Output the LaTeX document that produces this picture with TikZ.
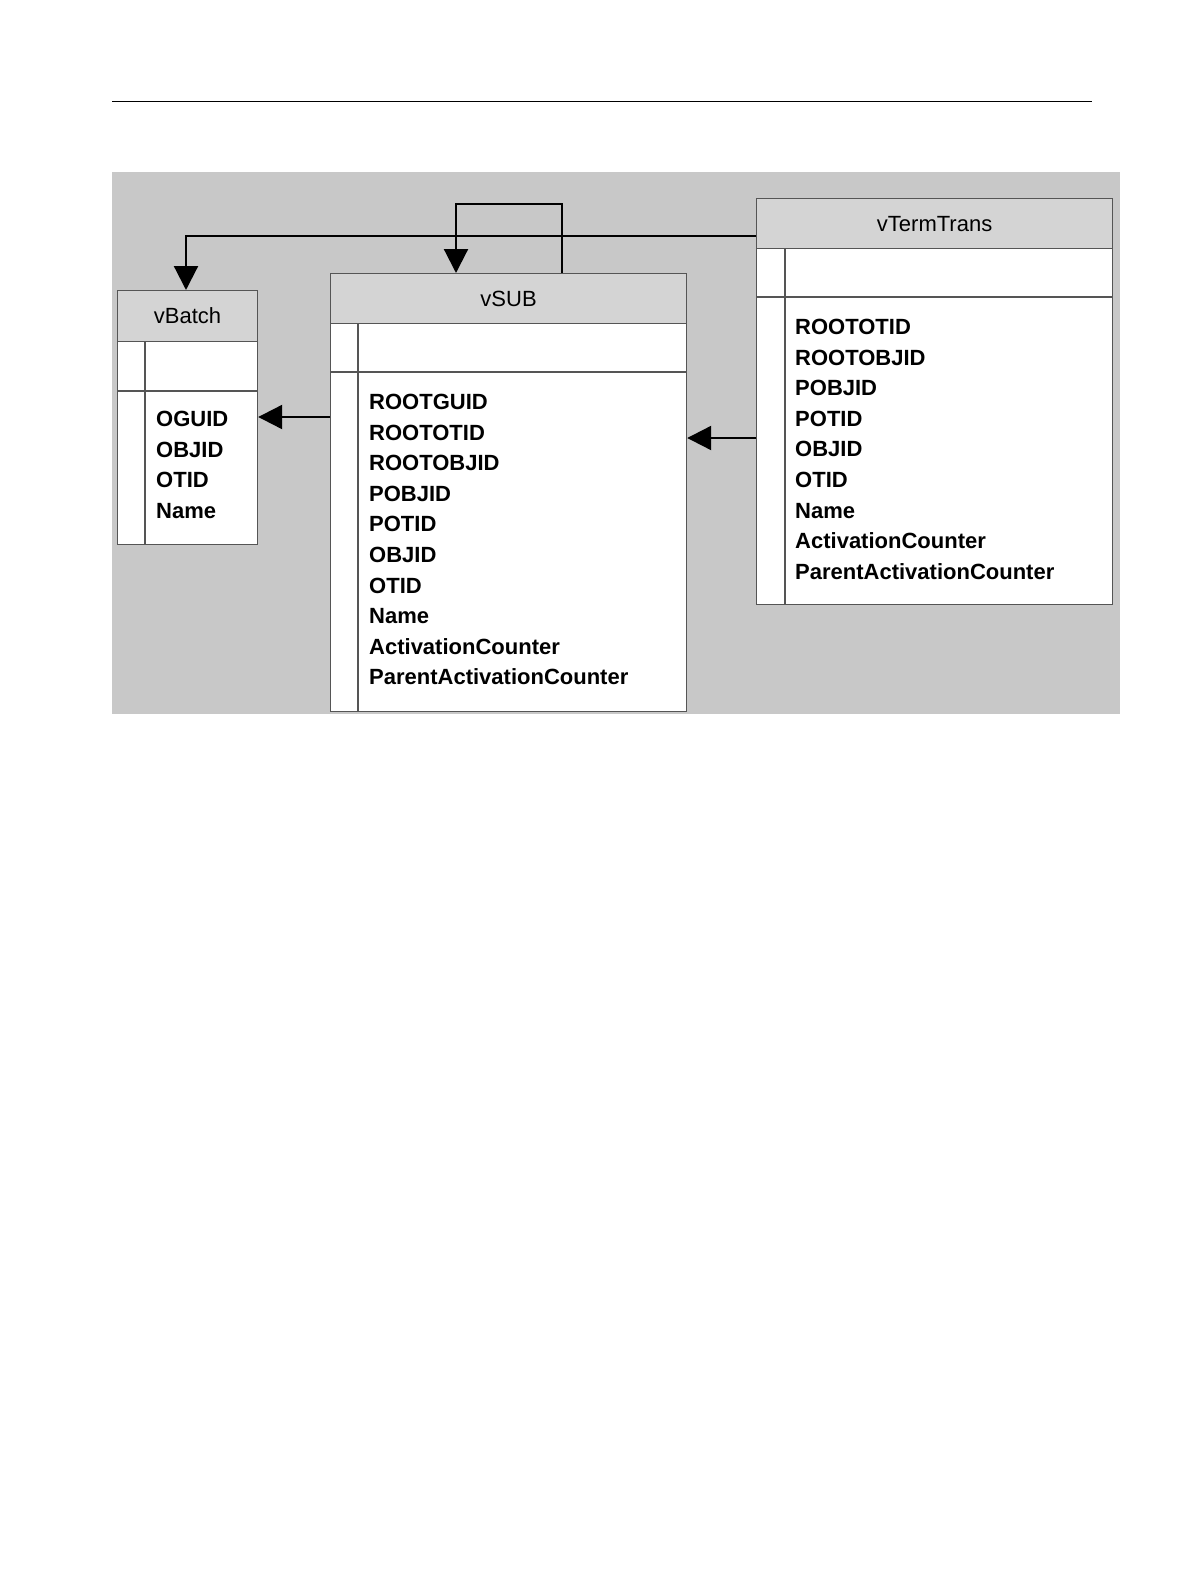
\documentclass[tikz,border=0pt]{standalone}
\usepackage{fontspec}
\setmainfont{Liberation Sans}
\usetikzlibrary{arrows.meta}
\definecolor{bggray}{HTML}{C8C8C8}
\definecolor{hdgray}{HTML}{D4D4D4}
\definecolor{lnc}{HTML}{555555}
\begin{document}
\begin{tikzpicture}[x=1pt,y=-1pt,
  tbl/.style={draw=lnc,line width=1.2pt,fill=white,inner sep=0pt,anchor=north west},
  hdr/.style={draw=lnc,line width=1.2pt,fill=hdgray,inner sep=0pt,anchor=north west,font=\fontsize{22}{26}\selectfont},
  fld/.style={anchor=north west,align=left,inner sep=0pt,font=\fontsize{22}{30.6}\selectfont\bfseries},
  conn/.style={line width=2.2pt,-{Triangle[length=24pt,width=24pt]}},
  connp/.style={line width=2.2pt}]
\useasboundingbox (0,0) rectangle (1191,1587);
\draw[line width=1pt] (112,101) -- (1092,101);
\fill[bggray] (112,172) rectangle (1120,714);
% vBatch
\node[tbl,minimum width=140pt,minimum height=254pt] (vb) at (117,290) {};
\node[hdr,minimum width=140pt,minimum height=51pt] (vbh) at (117,290) {vBatch};
\draw[draw=lnc,line width=1.2pt] (117,391) -- (257,391) (145,341) -- (145,544);
\node[fld] (vbf) at (156,411) {OGUID\\OBJID\\OTID\\Name};
% vSUB
\node[tbl,minimum width=356pt,minimum height=438pt] (vs) at (330,273) {};
\node[hdr,minimum width=356pt,minimum height=50pt] (vsh) at (330,273) {vSUB};
\draw[draw=lnc,line width=1.2pt] (330,372) -- (686,372) (358,323) -- (358,711);
\node[fld] (vsf) at (369,394) {ROOTGUID\\ROOTOTID\\ROOTOBJID\\POBJID\\POTID\\OBJID\\OTID\\Name\\ActivationCounter\\ParentActivationCounter};
% vTermTrans
\node[tbl,minimum width=356pt,minimum height=406pt] (vt) at (756,198) {};
\node[hdr,minimum width=356pt,minimum height=50pt] (vth) at (756,198) {vTermTrans};
\draw[draw=lnc,line width=1.2pt] (756,297) -- (1112,297) (785,248) -- (785,604);
\node[fld] (vtf) at (795,319) {ROOTOTID\\ROOTOBJID\\POBJID\\POTID\\OBJID\\OTID\\Name\\ActivationCounter\\ParentActivationCounter};
% connectors
\coordinate (c1) at (186,236);
\draw[conn] (vt.west |- c1) -| (vb.north -| c1);
\coordinate (c2) at (562,204);
\coordinate (c3) at (456,204);
\draw[conn] (vs.north -| c2) -- (c2) -- (c3) -- (vs.north -| c3);
\coordinate (c4) at (0,417);
\draw[conn] (vs.west |- c4) -- (vb.east |- c4);
\coordinate (c5) at (0,438);
\draw[conn] (vt.west |- c5) -- (vs.east |- c5);
\end{tikzpicture}
\end{document}
